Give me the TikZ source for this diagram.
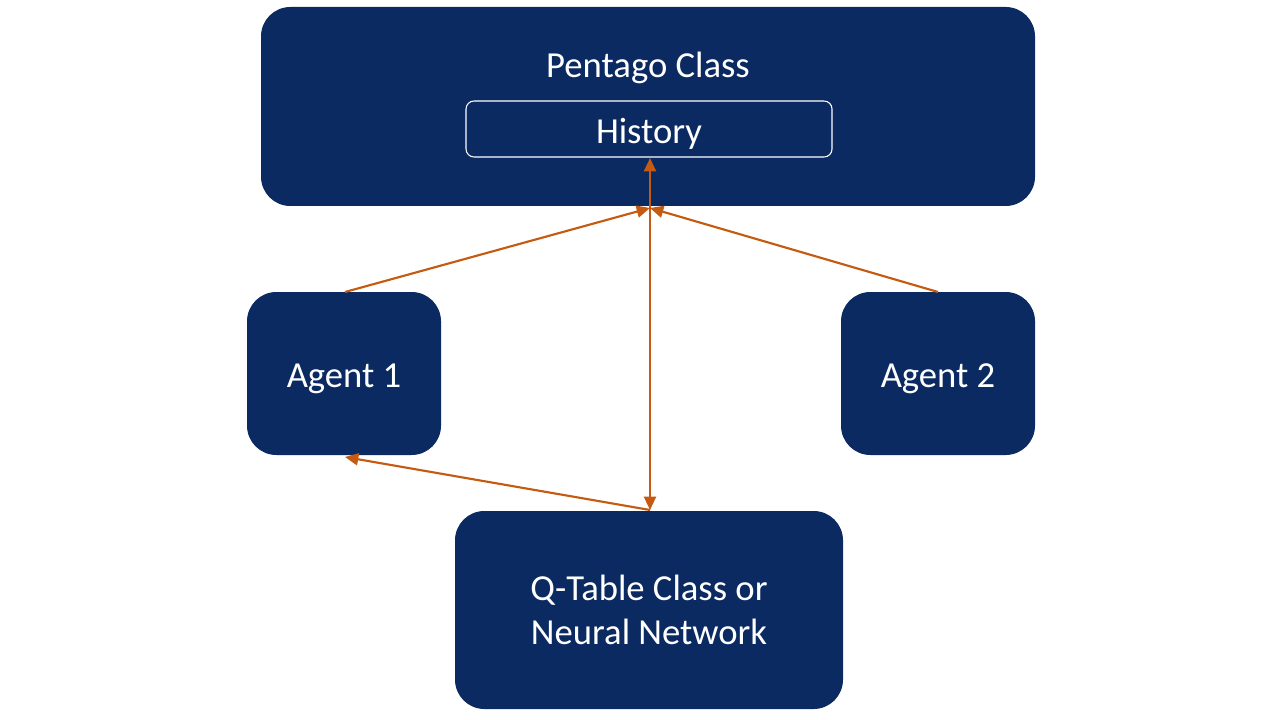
\documentclass[tikz,border=0pt]{standalone}
\usepackage{fontspec}
\setmainfont{Carlito}
\usetikzlibrary{arrows.meta}
\definecolor{navy}{HTML}{0B2A62}
\definecolor{arr}{HTML}{C55A11}
\tikzset{
  box/.style={fill=navy, draw=none, rounded corners=22pt, text=white, font=\fontsize{27.5}{33}\selectfont, align=center},
  hist/.style={draw=white, line width=0.8pt, fill=navy, rounded corners=6pt},
  lbl/.style={text=white, font=\fontsize{27.5}{33}\selectfont},
  con/.style={draw=arr, line width=1.6pt, -{Triangle[length=10pt,width=9pt]}},
}
\begin{document}
\begin{tikzpicture}[x=0.75pt,y=-0.75pt]
\useasboundingbox (0,0) rectangle (1280,720);
\node[box, minimum width=774*0.75pt, minimum height=199*0.75pt] (pent) at (648,106.5) {};
\node[lbl] (ptxt) at (648,68) {Pentago Class};
\node[hist, minimum width=366*0.75pt, minimum height=56*0.75pt] (hist) at (649,129) {};
\node[lbl] (htxt) at (649,133.5) {History};
\node[box, minimum width=194*0.75pt, minimum height=163*0.75pt] (a1) at (344,373.5) {};
\node[lbl] (a1t) at (344,379) {Agent 1};
\node[box, minimum width=194*0.75pt, minimum height=163*0.75pt] (a2) at (938,373.5) {};
\node[lbl] (a2t) at (938,379) {Agent 2};
\node[box, minimum width=388*0.75pt, minimum height=198*0.75pt] (q) at (649,610) {Q-Table Class or\\Neural Network};
\coordinate (hub) at (650,208);
\coordinate (qtop) at (650,510);
\coordinate (hbot) at (650,158);
\coordinate (a1top) at (345,292);
\coordinate (a2top) at (938,292);
\coordinate (a1bot) at (345,457);
\draw[con, {Triangle[length=10pt,width=9pt]}-{Triangle[length=10pt,width=9pt]}] (qtop) -- (hbot);
\draw[con] (a1top) -- (hub);
\draw[con] (a2top) -- (hub);
\draw[con] (qtop) -- (a1bot);
\end{tikzpicture}
\end{document}
